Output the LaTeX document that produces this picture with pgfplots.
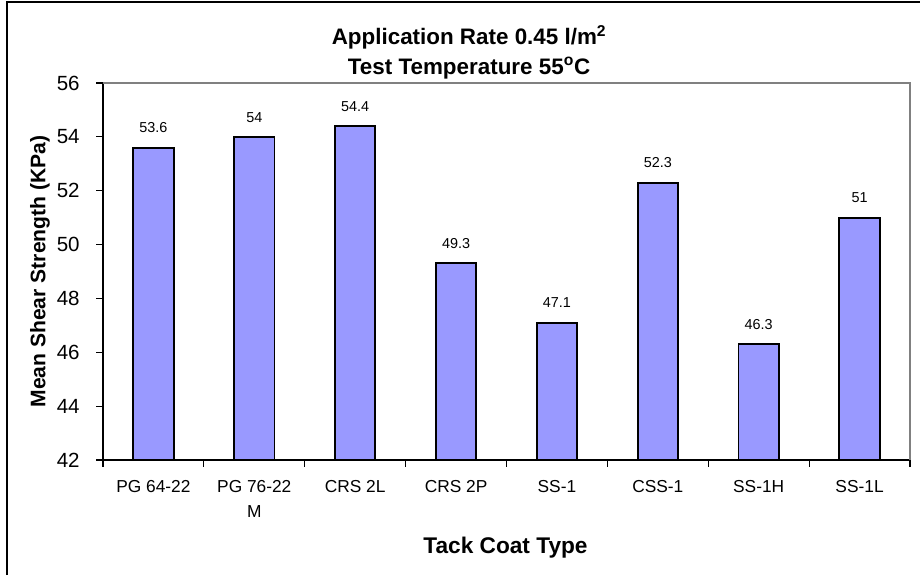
\documentclass[border=0pt]{standalone}
\usepackage{pgfplots}
\pgfplotsset{compat=1.18}
\usepackage{fontspec}
\setmainfont{Liberation Sans}
\definecolor{barblue}{HTML}{9999FF}
\definecolor{axgray}{HTML}{808080}
\begin{document}
\begin{tikzpicture}
\useasboundingbox (0,0) rectangle (690pt,431.25pt);
\draw[line width=0.9pt] (5.25pt,0) -- (5.25pt,429.75pt) -- (690pt,429.75pt);
\begin{axis}[
  at={(77.25pt,86.25pt)}, anchor=south west,
  scale only axis, width=605.25pt, height=282.75pt,
  xmin=-0.5, xmax=7.5, ymin=42, ymax=56,
  clip=false,
  axis lines*=left,
  axis line style={black, line width=0.8pt},
  tick align=outside,
  major tick length=5pt,
  tick style={black, line width=0.8pt},
  ytick={42,44,...,56},
  xtick={-0.5,0.5,...,7.5},
  xticklabels={},
  extra x ticks={0,1,2,3,4,5,6,7},
  extra x tick labels={PG 64-22,{PG 76-22\\M},CRS 2L,CRS 2P,SS-1,CSS-1,SS-1H,SS-1L},
  extra x tick style={major tick length=0pt},
  xticklabel style={font=\fontsize{13}{18.75}\selectfont, align=center, yshift=-11.5pt},
  yticklabel style={font=\fontsize{15.4}{18}\selectfont, xshift=-9pt},
  /pgf/number format/assume math mode=true,
  nodes near coords,
  nodes near coords style={font=\fontsize{10.8}{13}\selectfont, yshift=7pt},
]
\addplot[ybar, bar width=0.4, fill=barblue, draw=black, line width=1.4pt]
  coordinates {(0,53.6) (1,54) (2,54.4) (3,49.3) (4,47.1) (5,52.3) (6,46.3) (7,51)};
\draw[axgray, line width=0.8pt] (rel axis cs:0,1) -- (rel axis cs:1,1) -- (rel axis cs:1,0);
\end{axis}
\node[font=\bfseries\fontsize{16.8}{19}\selectfont, anchor=base] at (351.8pt,397.5pt) {Application Rate 0.45 l/m\textsuperscript{2}};
\node[font=\bfseries\fontsize{16.8}{19}\selectfont, anchor=base] at (351.8pt,375.5pt) {Test Temperature 55\textsuperscript{o}C};
\node[font=\bfseries\fontsize{17}{19}\selectfont, anchor=base] at (379.1pt,16.5pt) {Tack Coat Type};
\node[font=\bfseries\fontsize{15.8}{19}\selectfont, rotate=90] at (30pt,227.6pt) {Mean Shear Strength (KPa)};
\end{tikzpicture}
\end{document}
